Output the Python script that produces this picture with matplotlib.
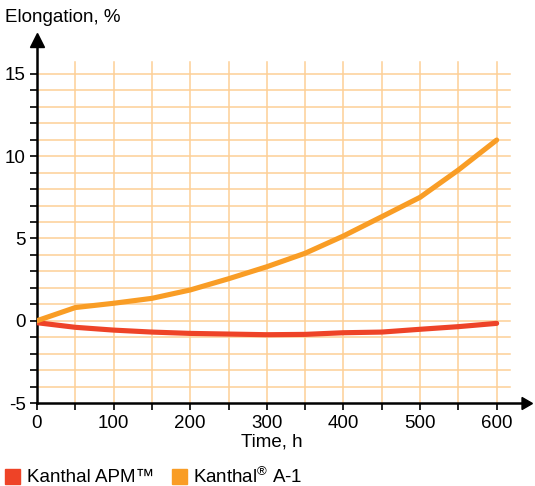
import matplotlib
matplotlib.use("Agg")
import matplotlib.pyplot as plt
from matplotlib.patches import Rectangle
import numpy as np

plt.rcParams['font.family'] = ['Liberation Sans', 'DejaVu Sans']
plt.rcParams['mathtext.fontset'] = 'custom'
plt.rcParams['mathtext.rm'] = 'Liberation Sans'
plt.rcParams['mathtext.it'] = 'Liberation Sans'
plt.rcParams['mathtext.default'] = 'regular'

hours = [0, 50, 100, 150, 200, 250, 300, 350, 400, 450, 500, 550, 600]
a1 = [0.0, 0.8, 1.06, 1.36, 1.87, 2.55, 3.28, 4.1, 5.15, 6.32, 7.5, 9.16, 10.98]
apm = [-0.12, -0.4, -0.57, -0.69, -0.77, -0.81, -0.85, -0.83, -0.73, -0.69, -0.52, -0.36, -0.16]
series_names = ["Kanthal APM™", "Kanthal$^{®}$ A-1"]
colors = ["#EE4327", "#F99D25"]
grid_color = "#FDCF96"

W, H = 535, 486
fig = plt.figure(figsize=(W / 100, H / 100), dpi=100)
x0, x1 = 37, 525
y0, y1 = 403, 40
ax = fig.add_axes([x0 / W, 1 - y0 / H, (x1 - x0) / W, (y0 - y1) / H])
ax.set_xlim(0, 637)
ax.set_ylim(-5, 17.06)

# grid
for yv in range(-4, 16):
    ax.plot([0, 617], [yv, yv], color=grid_color, lw=1.1, zorder=1)
for xv in range(50, 601, 50):
    ax.plot([xv, xv], [-5, 15.7], color=grid_color, lw=1.1, zorder=1)

ax.plot(hours, apm, color=colors[0], lw=3.7, solid_capstyle='round', solid_joinstyle='round', zorder=3)
ax.plot(hours, a1, color=colors[1], lw=3.7, solid_capstyle='round', solid_joinstyle='round', zorder=3)

for s in ['top', 'right']:
    ax.spines[s].set_visible(False)
for s in ['left', 'bottom']:
    ax.spines[s].set_linewidth(1.8)
    ax.spines[s].set_color('black')

# axis arrows
ax.plot([637], [-5], marker=(3, 0, -90), color='black', markersize=10, clip_on=False, zorder=5)
ax.plot([0], [17.06], marker='^', color='black', markersize=10, clip_on=False, zorder=5)

ax.set_yticks([-5, 0, 5, 10, 15])
ax.set_yticklabels(['-5', '0', '5', '10', '15'])
ax.set_yticks(np.arange(-5, 16, 1), minor=True)
ax.set_xticks([0, 100, 200, 300, 400, 500, 600])
ax.set_xticks(np.arange(0, 601, 50), minor=True)
ax.tick_params(axis='both', which='both', direction='out', length=5, width=1.2, colors='black', labelsize=13.5)
ax.tick_params(axis='y', pad=3)
ax.tick_params(axis='x', pad=4)

fig.text(5 / W, 1 - 18 / H, "Elongation, %", fontsize=13.5, va='center', ha='left')
fig.text(272 / W, 1 - 442 / H, "Time, h", fontsize=13.5, va='center', ha='center')

# legend
fig.patches.append(Rectangle((5 / W, 1 - 484 / H), 15 / W, 15 / H, transform=fig.transFigure, color=colors[0]))
fig.text(27 / W, 1 - 477 / H, series_names[0], fontsize=13.5, va='center', ha='left')
fig.patches.append(Rectangle((172 / W, 1 - 484 / H), 15 / W, 15 / H, transform=fig.transFigure, color=colors[1]))
fig.text(193 / W, 1 - 477 / H, series_names[1], fontsize=13.5, va='center', ha='left')

fig.savefig("out.png", dpi=100)
